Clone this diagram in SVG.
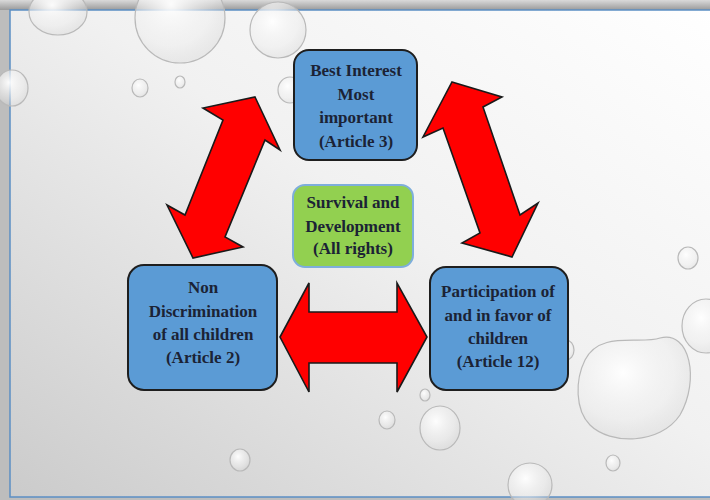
<svg xmlns="http://www.w3.org/2000/svg" width="710" height="500" viewBox="0 0 710 500">
  <defs>
    <linearGradient id="bg" x1="1" y1="0" x2="0" y2="1">
      <stop offset="0" stop-color="#ffffff"/>
      <stop offset="0.45" stop-color="#f1f1f1"/>
      <stop offset="1" stop-color="#cbcbcb"/>
    </linearGradient>
    <linearGradient id="topband" x1="0" y1="0" x2="0" y2="1">
      <stop offset="0" stop-color="#dadada"/>
      <stop offset="1" stop-color="#9a9a9a"/>
    </linearGradient>
    <radialGradient id="drop" cx="0.4" cy="0.35" r="0.65">
      <stop offset="0" stop-color="#ffffff" stop-opacity="0.95"/>
      <stop offset="0.7" stop-color="#eeeeee" stop-opacity="0.5"/>
      <stop offset="1" stop-color="#d8d8d8" stop-opacity="0.4"/>
    </radialGradient>
    <style>
      .drop { fill: url(#drop); stroke: #b9b9b9; stroke-width: 1.2; }
      .node { fill: #5b9bd5; stroke: #1e1e1e; stroke-width: 2; }
      .center { fill: #92d050; stroke: #7eaedb; stroke-width: 2; }
      .arrow { fill: #ff0000; stroke: #1a1a1a; stroke-width: 1.6; stroke-linejoin: miter; }
      .t { font-family: "Liberation Serif", "DejaVu Serif", serif; font-weight: bold; font-size: 17px; fill: #1b2335; text-anchor: middle; }
    </style>
  </defs>

  <!-- frame and background -->
  <rect x="0" y="0" width="710" height="500" fill="#bdbdbd"/>
  <rect x="0" y="0" width="710" height="10" fill="url(#topband)"/>
  <rect x="10" y="10" width="710" height="487" fill="url(#bg)" stroke="#5b8ec4" stroke-width="1.5"/>

  <!-- water drops -->
  <g id="drops">
    <ellipse class="drop" cx="58" cy="12" rx="29" ry="23"/>
    <ellipse class="drop" cx="180" cy="18" rx="45" ry="45"/>
    <ellipse class="drop" cx="278" cy="30" rx="28" ry="28"/>
    <ellipse class="drop" cx="12" cy="88" rx="16" ry="18"/>
    <ellipse class="drop" cx="140" cy="88" rx="8" ry="9"/>
    <ellipse class="drop" cx="180" cy="82" rx="5" ry="6"/>
    <ellipse class="drop" cx="290" cy="90" rx="12" ry="13"/>
    <ellipse class="drop" cx="688" cy="258" rx="10" ry="11"/>
    <ellipse class="drop" cx="706" cy="326" rx="24" ry="27"/>
    <path class="drop" d="M585,360 C600,330 640,345 660,338 C690,330 700,380 680,415 C660,445 610,445 590,425 C575,410 575,380 585,360 Z"/>
    <ellipse class="drop" cx="613" cy="463" rx="7" ry="8"/>
    <ellipse class="drop" cx="530" cy="485" rx="22" ry="22"/>
    <ellipse class="drop" cx="440" cy="428" rx="20" ry="22"/>
    <ellipse class="drop" cx="387" cy="420" rx="8" ry="9"/>
    <ellipse class="drop" cx="425" cy="395" rx="5" ry="6"/>
    <ellipse class="drop" cx="240" cy="460" rx="10" ry="11"/>
    <ellipse class="drop" cx="566" cy="350" rx="8" ry="10"/>
  </g>

  <!-- connectors -->
  <g id="connectors">
    <polygon class="arrow" points="255,97 280,150 265,140 225,237 243,247 193,258 167,205 185,215 223,120 203,108"/>
    <polygon class="arrow" points="452,82 502,97 483,107 520,215 538,203 512,257 462,243 480,233 443,128 423,137"/>
    <polygon class="arrow" points="280,337 309,283 309,312 397,312 397,283 427,337 397,392 397,363 309,363 309,392"/>
  </g>

  <g id="node-best-interest">
    <rect class="node" x="294" y="50" width="123" height="110" rx="15"/>
    <text class="t" x="356" y="76">Best Interest</text>
    <text class="t" x="356" y="100">Most</text>
    <text class="t" x="356" y="123">important</text>
    <text class="t" x="356" y="147">(Article 3)</text>
  </g>

  <g id="node-non-discrimination">
    <rect class="node" x="128" y="265" width="149" height="125" rx="16"/>
    <text class="t" x="203" y="293">Non</text>
    <text class="t" x="203" y="317">Discrimination</text>
    <text class="t" x="203" y="340">of all children</text>
    <text class="t" x="203" y="363">(Article 2)</text>
  </g>

  <g id="node-participation">
    <rect class="node" x="430" y="267" width="138" height="123" rx="16"/>
    <text class="t" x="498" y="297">Participation of</text>
    <text class="t" x="498" y="321">and in favor of</text>
    <text class="t" x="498" y="344">children</text>
    <text class="t" x="498" y="367">(Article 12)</text>
  </g>

  <g id="node-survival">
    <rect class="center" x="293" y="185" width="120" height="82" rx="12"/>
    <text class="t" x="353" y="208">Survival and</text>
    <text class="t" x="353" y="232">Development</text>
    <text class="t" x="353" y="254">(All rights)</text>
  </g>
</svg>
